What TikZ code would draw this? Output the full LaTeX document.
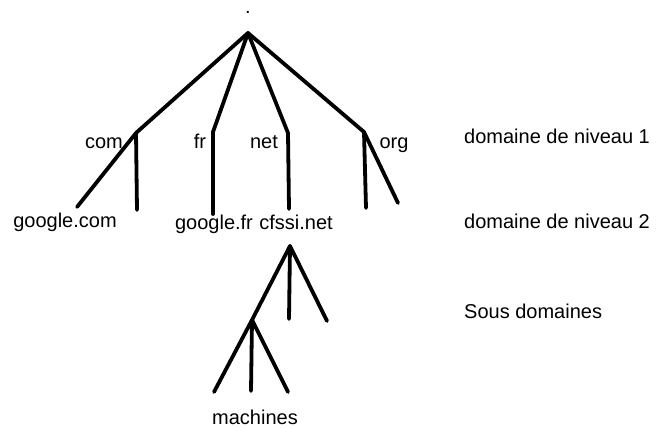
\documentclass[tikz,border=0pt]{standalone}
\usepackage{fontspec}
\setmainfont{Liberation Sans}
\usepackage{tikz}

\begin{document}
\begin{tikzpicture}[x=1pt, y=-1pt, line cap=round, line join=round,
  branche/.style={line width=3.8pt, black},
  etiq/.style={anchor=base, inner sep=0pt, font=\fontsize{20}{24}\selectfont},
  niveau/.style={anchor=base west, inner sep=0pt, font=\fontsize{20}{24}\selectfont}]

\useasboundingbox (0,0) rectangle (659,428);

% points de l'arbre
\coordinate (root) at (248,33);
\coordinate (com) at (136,133);
\coordinate (fr) at (213,132);
\coordinate (net) at (288,133);
\coordinate (org) at (364,132);
\coordinate (com1) at (77,207);
\coordinate (com2) at (137,210);
\coordinate (fr1) at (213,214);
\coordinate (net1) at (289,209);
\coordinate (org1) at (366,208);
\coordinate (org2) at (398,203);
\coordinate (cfssi) at (290,246);
\coordinate (sous) at (252,320);
\coordinate (sous2) at (289,319);
\coordinate (sous3) at (327,321);
\coordinate (mach1) at (214,392);
\coordinate (mach2) at (251,391);
\coordinate (mach3) at (288,392);

\draw[branche] (root) -- (com);
\draw[branche] (root) -- (fr);
\draw[branche] (root) -- (net);
\draw[branche] (root) -- (org);
\draw[branche] (com) -- (com1);
\draw[branche] (com) -- (com2);
\draw[branche] (fr) -- (fr1);
\draw[branche] (net) -- (net1);
\draw[branche] (org) -- (org1);
\draw[branche] (org) -- (org2);
\draw[branche] (cfssi) -- (sous);
\draw[branche] (cfssi) -- (sous2);
\draw[branche] (cfssi) -- (sous3);
\draw[branche] (sous) -- (mach1);
\draw[branche] (sous) -- (mach2);
\draw[branche] (sous) -- (mach3);

\node[etiq] (point) at (248,14) {.};
\node[etiq] (lcom) at (104,148) {com};
\node[etiq] (lfr) at (200,148) {fr};
\node[etiq] (lnet) at (264,148) {net};
\node[etiq] (lorg) at (394,148) {org};
\node[etiq] (lgcom) at (65,227) {google.com};
\node[etiq] (lgfr) at (214,229) {google.fr};
\node[etiq] (lcfssi) at (296,229) {cfssi.net};
\node[etiq] (lmach) at (255,424) {machines};

\node[niveau] (niv1) at (464,143) {domaine de niveau 1};
\node[niveau] (niv2) at (464,228) {domaine de niveau 2};
\node[niveau] (niv3) at (464,318) {Sous domaines};
\end{tikzpicture}
\end{document}
